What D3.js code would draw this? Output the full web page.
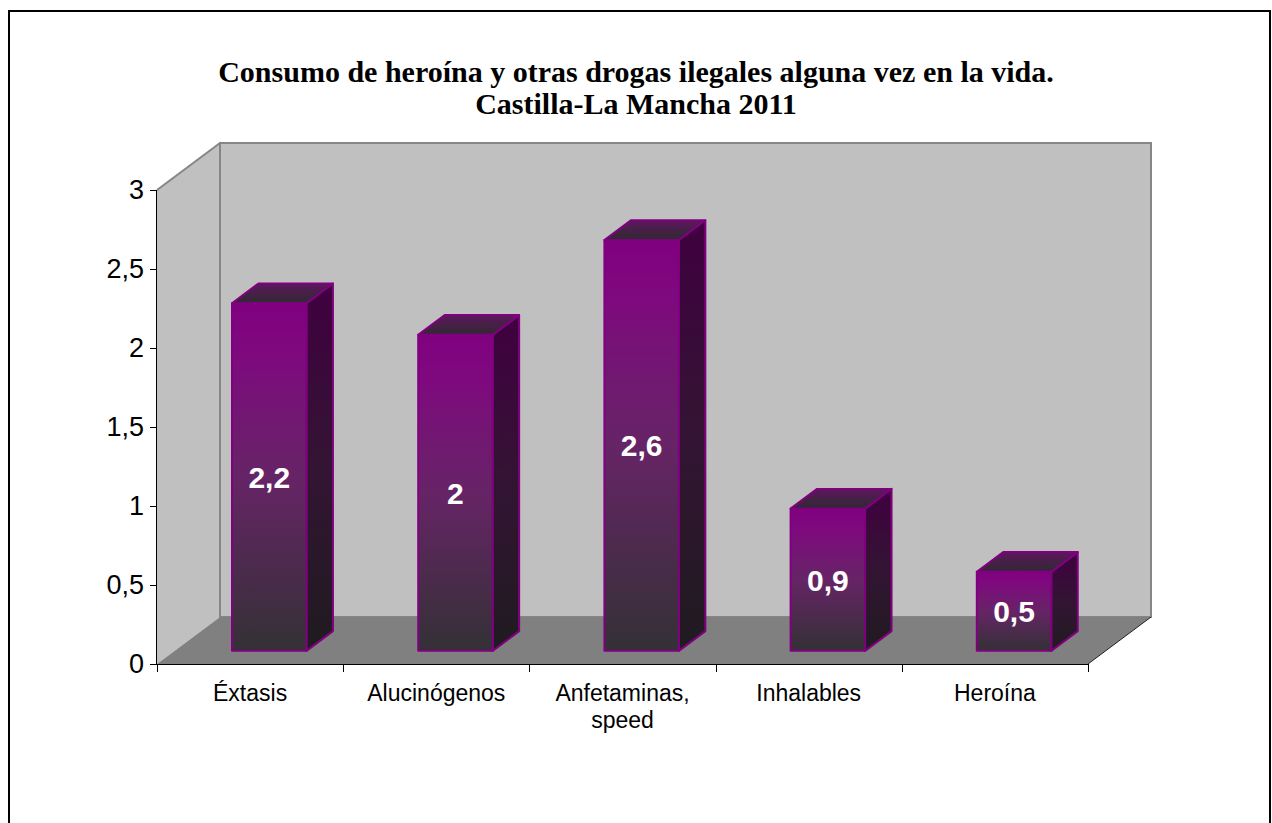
<!DOCTYPE html>
<html><head><meta charset="utf-8">
<script src="https://cdn.jsdelivr.net/npm/d3@7"></script>
<style>body{margin:0;background:#fff}svg{display:block}</style>
</head><body>
<svg id="c" width="1272" height="823"></svg>
<script>
const categories = ["Éxtasis", "Alucinógenos", "Anfetaminas, speed", "Inhalables", "Heroína"];
const values = [2.2, 2, 2.6, 0.9, 0.5];
const yTicks = [0, 0.5, 1, 1.5, 2, 2.5, 3];
const titleLines = ["Consumo de heroína y otras drogas ilegales alguna vez en la vida.", "Castilla-La Mancha 2011"];
const labelLines = [["Éxtasis"], ["Alucinógenos"], ["Anfetaminas,", "speed"], ["Inhalables"], ["Heroína"]];

const svg = d3.select("#c");
const sans = "'Liberation Sans', Arial, sans-serif";
const serif = "'Liberation Serif', 'Times New Roman', serif";

svg.append("rect").attr("x", 9).attr("y", 11).attr("width", 1261).attr("height", 830)
  .attr("fill", "none").attr("stroke", "#000").attr("stroke-width", 2);

const x = d3.scaleBand().domain(categories).range([157, 1088]).paddingInner(0.6).paddingOuter(0.3);
const y = d3.scaleLinear().domain([0, 3]).range([664, 190]);
const DX = 63, DY = 47;
const P = (px, v, z) => [px + z * DX, y(v) - z * DY];
const Z0 = 0.28, Z1 = 0.70;

const defs = svg.append("defs");
function grad(id, stops, x1, y1, x2, y2) {
  const g = defs.append("linearGradient").attr("id", id)
    .attr("x1", x1).attr("y1", y1).attr("x2", x2).attr("y2", y2);
  stops.forEach(s => g.append("stop").attr("offset", s[0]).attr("stop-color", s[1]));
}
grad("gFront", [[0, "#800080"], [0.15, "#7e0a7e"], [0.5, "#662466"], [1, "#333135"]], 0, 0, 0, 1);
grad("gSide", [[0, "#400040"], [0.5, "#331433"], [1, "#1f1b20"]], 0, 0, 0, 1);
grad("gTop", [[0, "#5e165e"], [1, "#2e2a30"]], 0, 0, 0, 1);

const x0 = x.range()[0], x1 = x.range()[1];
const poly = pts => "M" + pts.map(p => p.join(",")).join("L") + "Z";

// left wall
svg.append("path").attr("d", poly([P(x0, 0, 0), P(x0, 3, 0), P(x0, 3, 1), P(x0, 0, 1)])).attr("fill", "#c0c0c0");
// back wall
svg.append("path").attr("d", poly([P(x0, 0, 1), P(x0, 3, 1), P(x1, 3, 1), P(x1, 0, 1)]))
  .attr("fill", "#c0c0c0").attr("stroke", "#868686").attr("stroke-width", 2);
// floor
svg.append("path").attr("d", poly([P(x0, 0, 0), P(x0, 0, 1), P(x1, 0, 1), P(x1, 0, 0)])).attr("fill", "#808080");
// left wall top edge
svg.append("line").attr("x1", P(x0, 3, 0)[0]).attr("y1", P(x0, 3, 0)[1]).attr("x2", P(x0, 3, 1)[0]).attr("y2", P(x0, 3, 1)[1])
  .attr("stroke", "#868686").attr("stroke-width", 2);
// floor right edge
svg.append("line").attr("x1", P(x1, 0, 0)[0]).attr("y1", P(x1, 0, 0)[1]).attr("x2", P(x1, 0, 1)[0]).attr("y2", P(x1, 0, 1)[1])
  .attr("stroke", "#222").attr("stroke-width", 1);

// y axis
const yAxis = d3.axisLeft(y).tickValues(yTicks).tickSize(7).tickPadding(6)
  .tickFormat(d => String(d).replace(".", ","));
const ga = svg.append("g").attr("transform", `translate(${x0},0)`).call(yAxis);
ga.select(".domain").attr("d", `M-0.5,${y(3)}V${y(0)}`).attr("stroke", "#000");
ga.selectAll("text").attr("font-family", sans).attr("font-size", 27).attr("fill", "#000");

// x axis
svg.append("line").attr("x1", x0).attr("x2", x1).attr("y1", y(0) + 0.5).attr("y2", y(0) + 0.5).attr("stroke", "#000");
const bounds = d3.range(categories.length + 1).map(i => x0 + i * x.step());
svg.selectAll(".xt").data(bounds).join("line")
  .attr("x1", d => Math.round(d) + 0.5).attr("x2", d => Math.round(d) + 0.5)
  .attr("y1", y(0)).attr("y2", y(0) + 8).attr("stroke", "#000");
const lt = svg.selectAll(".xl").data(categories).join("text")
  .attr("font-family", sans).attr("font-size", 23).attr("text-anchor", "middle").attr("fill", "#000");
lt.each(function (d, i) {
  const cx = x(d) + x.bandwidth() / 2;
  d3.select(this).selectAll("tspan").data(labelLines[i]).join("tspan")
    .attr("x", cx).attr("y", (t, j) => 701 + j * 27).text(t => t);
});

// bars
categories.forEach((c, i) => {
  const v = values[i];
  const a = x(c) + 1.5, b = x(c) + x.bandwidth() + 1.5;
  const g = svg.append("g");
  const st = { stroke: "#800080", "stroke-width": 2, "stroke-linejoin": "round" };
  const side = g.append("path").attr("d", poly([P(b, 0, Z0), P(b, v, Z0), P(b, v, Z1), P(b, 0, Z1)])).attr("fill", "url(#gSide)");
  const top = g.append("path").attr("d", poly([P(a, v, Z0), P(a, v, Z1), P(b, v, Z1), P(b, v, Z0)])).attr("fill", "url(#gTop)");
  const front = g.append("path").attr("d", poly([P(a, 0, Z0), P(a, v, Z0), P(b, v, Z0), P(b, 0, Z0)])).attr("fill", "url(#gFront)");
  [side, top, front].forEach(s => Object.entries(st).forEach(([k, val]) => s.attr(k, val)));
  const cx = (a + b) / 2 + Z0 * DX;
  const cy = (y(v) + y(0)) / 2 - Z0 * DY;
  g.append("text").attr("x", cx).attr("y", cy).attr("dy", "0.36em").attr("text-anchor", "middle")
    .attr("font-family", sans).attr("font-weight", "bold").attr("font-size", 30).attr("fill", "#fff")
    .text(String(v).replace(".", ","));
});

// title
svg.append("text").attr("text-anchor", "middle").attr("font-family", serif).attr("font-weight", "bold")
  .attr("font-size", 30).attr("fill", "#000")
  .selectAll("tspan").data(titleLines).join("tspan")
  .attr("x", 636).attr("y", (d, i) => 82 + i * 32).text(d => d);
</script>
</body></html>
